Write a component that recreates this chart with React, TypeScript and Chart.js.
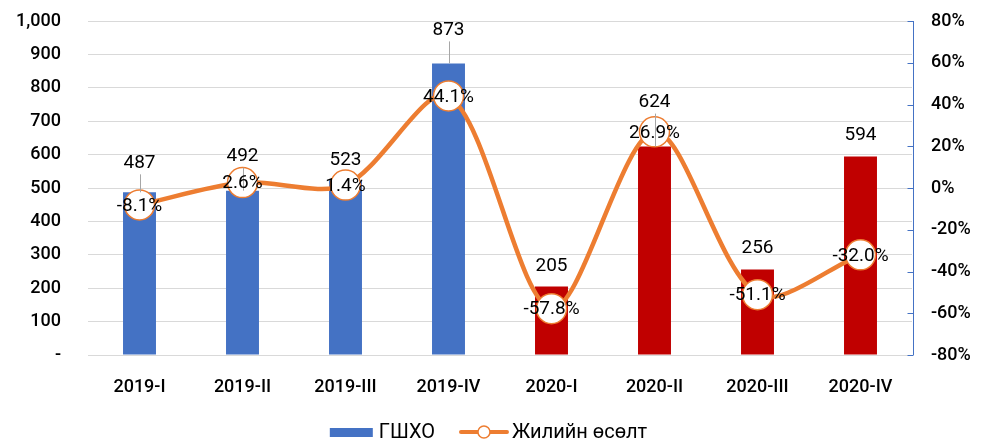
import React, { useEffect, useRef } from "react";
import { Chart, registerables } from "chart.js";

Chart.register(...registerables);

const categories = ["2019-I", "2019-II", "2019-III", "2019-IV", "2020-I", "2020-II", "2020-III", "2020-IV"];
const gshxoValues = [487, 492, 523, 873, 205, 624, 256, 594];
const growthValues = [-8.1, 2.6, 1.4, 44.1, -57.8, 26.9, -51.1, -32.0];
const leftTicks = [0, 100, 200, 300, 400, 500, 600, 700, 800, 900, 1000];
const rightTicks = [-80, -60, -40, -20, 0, 20, 40, 60, 80];
const barLabelName = "ГШХО";
const lineLabelName = "Жилийн өсөлт";

// styles
const barColors = ["#4472C4", "#4472C4", "#4472C4", "#4472C4", "#C00000", "#C00000", "#C00000", "#C00000"];
const barLabelLift = [30, 35, 21, 34, 21, 45, 22, 22];
const FONT = "Roboto, 'Noto Sans', sans-serif";
const ORANGE = "#ED7D31";

const labelsPlugin = {
  id: "customLabels",
  afterDatasetsDraw(chart: any) {
    const ctx = chart.ctx;
    const barMeta = chart.getDatasetMeta(1);
    const lineMeta = chart.getDatasetMeta(0);
    ctx.save();
    ctx.textAlign = "center";
    ctx.textBaseline = "middle";
    ctx.fillStyle = "#000";
    ctx.font = `19px ${FONT}`;
    barMeta.data.forEach((el: any, i: number) => {
      const lift = barLabelLift[i];
      const ly = el.y - lift;
      if (lift > 25) {
        ctx.strokeStyle = "#A6A6A6";
        ctx.lineWidth = 1;
        ctx.beginPath();
        ctx.moveTo(Math.round(el.x) + 0.5, ly + 12);
        ctx.lineTo(Math.round(el.x) + 0.5, el.y);
        ctx.stroke();
      }
      ctx.fillText(String(gshxoValues[i]), el.x, ly + 1);
    });
    lineMeta.data.forEach((el: any, i: number) => {
      ctx.fillText(growthValues[i].toFixed(1) + "%", el.x, el.y + 1);
    });
    ctx.restore();
  },
  afterDraw(chart: any) {
    const ctx = chart.ctx;
    const area = chart.chartArea;
    const y1 = chart.scales.y1;
    ctx.save();
    ctx.strokeStyle = "#4472C4";
    ctx.lineWidth = 1;
    const ax = Math.round(area.right) + 1.5;
    ctx.beginPath();
    ctx.moveTo(ax, area.top);
    ctx.lineTo(ax, area.bottom);
    rightTicks.forEach((t) => {
      const py = Math.round(y1.getPixelForValue(t)) + 0.5;
      ctx.moveTo(ax - 6, py);
      ctx.lineTo(ax, py);
    });
    ctx.stroke();

    // legend
    ctx.font = `20px ${FONT}`;
    ctx.textBaseline = "middle";
    ctx.textAlign = "left";
    const w1 = ctx.measureText(barLabelName).width;
    const w2 = ctx.measureText(lineLabelName).width;
    const total = 43 + 6 + w1 + 26 + 46 + 5 + w2;
    let x = (chart.width - total) / 2 - 3;
    const ly = 432;
    ctx.fillStyle = "#4472C4";
    ctx.fillRect(x, ly - 4, 43, 9);
    x += 49;
    ctx.fillStyle = "#000";
    ctx.fillText(barLabelName, x, ly + 1);
    x += w1 + 26;
    ctx.strokeStyle = ORANGE;
    ctx.lineWidth = 4;
    ctx.lineCap = "round";
    ctx.beginPath();
    ctx.moveTo(x, ly);
    ctx.lineTo(x + 46, ly);
    ctx.stroke();
    ctx.beginPath();
    ctx.arc(x + 23, ly, 6, 0, Math.PI * 2);
    ctx.fillStyle = "#fff";
    ctx.fill();
    ctx.lineWidth = 1.5;
    ctx.stroke();
    x += 51;
    ctx.fillStyle = "#000";
    ctx.fillText(lineLabelName, x, ly + 1);
    ctx.restore();
  },
};

export default function App() {
  const canvasRef = useRef<HTMLCanvasElement | null>(null);

  useEffect(() => {
    const canvas = canvasRef.current;
    if (!canvas) return;
    const tickFont = { family: FONT, size: 18, weight: "500" as any };
    const chart = new Chart(canvas, {
      type: "bar",
      data: {
        labels: categories,
        datasets: [
          {
            type: "line",
            label: lineLabelName,
            data: growthValues,
            yAxisID: "y1",
            borderColor: ORANGE,
            borderWidth: 4.5,
            tension: 0.3,
            pointRadius: 15,
            pointBackgroundColor: "#fff",
            pointBorderColor: ORANGE,
            pointBorderWidth: 1.5,
            order: 0,
          } as any,
          {
            type: "bar",
            label: barLabelName,
            data: gshxoValues,
            yAxisID: "y",
            backgroundColor: barColors,
            barPercentage: 0.32,
            categoryPercentage: 1,
            order: 1,
          },
        ],
      },
      options: {
        animation: false,
        responsive: false,
        maintainAspectRatio: false,
        layout: { autoPadding: false, padding: { top: 21, left: 0, right: 0, bottom: 0 } },
        plugins: {
          legend: { display: false },
          tooltip: { enabled: false },
        },
        scales: {
          x: {
            grid: { display: false, drawTicks: false },
            border: { display: true, color: "#D9D9D9", width: 1 },
            ticks: {
              color: "#000",
              font: tickFont,
              padding: 22,
              maxRotation: 0,
            },
            afterFit(scale: any) {
              scale.height = 87;
            },
          },
          y: {
            position: "left",
            min: 0,
            max: 1000,
            afterBuildTicks(scale: any) {
              scale.ticks = leftTicks.map((v) => ({ value: v }));
            },
            grid: { color: "#D9D9D9", drawTicks: false },
            border: { display: false },
            ticks: {
              color: "#000",
              font: tickFont,
              padding: 27,
              callback: (v: any) => (v === 0 ? "-" : Number(v).toLocaleString("en-US")),
            },
            afterFit(scale: any) {
              scale.width = 88;
              scale.paddingTop = 0;
              scale.paddingBottom = 0;
            },
          },
          y1: {
            position: "right",
            min: -80,
            max: 80,
            afterBuildTicks(scale: any) {
              scale.ticks = rightTicks.map((v) => ({ value: v }));
            },
            grid: { drawOnChartArea: false, drawTicks: false },
            border: { display: false },
            ticks: {
              color: "#000",
              font: tickFont,
              padding: 19,
              callback: (v: any) => `${v}%`,
            },
            afterFit(scale: any) {
              scale.width = 71;
              scale.paddingTop = 0;
              scale.paddingBottom = 0;
            },
          },
        },
      },
      plugins: [labelsPlugin],
    });
    return () => chart.destroy();
  }, []);

  return (
    <div style={{ position: "fixed", left: 0, top: 0, width: 983, height: 442, background: "#fff" }}>
      <canvas ref={canvasRef} width={983} height={442} style={{ display: "block" }} />
    </div>
  );
}
